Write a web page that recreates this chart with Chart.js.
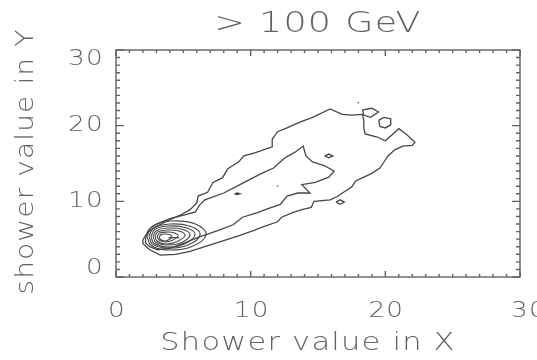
<!DOCTYPE html>
<html>
<head>
<meta charset="utf-8">
<script src="https://cdn.jsdelivr.net/npm/chart.js@4/dist/chart.umd.min.js"></script>
<style>
  html, body { margin: 0; background: #fff; }
  canvas { display: block; filter: blur(0.45px); }
</style>
</head>
<body>
<canvas id="contour" width="537" height="360"></canvas>
<script>
const titleText = '> 100 GeV';
const xTitle = 'Shower value in X';
const yTitle = 'shower value in Y';
const xTicks = [0, 10, 20, 30];
const yTicks = [0, 10, 20, 30];
const minorStep = 1;

// outermost contour level
const outerLevel = [
  [2.0, 4.9], [2.3, 5.8], [2.9, 6.6], [3.8, 7.4], [4.8, 8.2], [5.5, 8.9], [6.0, 9.8],
  [6.1, 10.7], [6.8, 11.2], [7.2, 12.5], [7.9, 13.1], [8.3, 14.3], [9.1, 15.2], [9.5, 16.0],
  [10.3, 16.4], [11.6, 17.2], [11.6, 18.2], [12.0, 19.2], [12.7, 19.7], [13.7, 20.5],
  [14.6, 21.1], [15.9, 22.2], [16.8, 21.5], [17.5, 21.4], [18.3, 21.5], [18.4, 20.7],
  [18.4, 19.7], [18.5, 18.9], [19.4, 18.5], [20.0, 18.0], [20.5, 18.8], [21.0, 19.6],
  [21.6, 18.8], [22.2, 17.8], [22.0, 17.4], [21.3, 17.3], [20.7, 16.8], [20.2, 16.0],
  [19.9, 15.2], [19.6, 14.4], [19.0, 13.7], [18.4, 13.2], [17.8, 12.7], [17.5, 11.9],
  [16.9, 11.2], [16.4, 10.6], [15.9, 10.2], [14.7, 10.0], [14.5, 9.2], [13.8, 8.9],
  [13.1, 8.5], [12.3, 7.9], [12.0, 7.3], [11.0, 6.7], [10.3, 6.2], [9.2, 5.5], [8.0, 4.8],
  [6.6, 4.0], [5.5, 3.4], [4.4, 3.0], [3.3, 2.9], [2.5, 3.6], [2.0, 4.4], [2.0, 4.9]
];

// second contour level
const innerLevel = [
  [2.2, 5.2], [2.4, 6.2], [3.0, 7.0], [4.0, 7.7], [5.1, 8.2], [5.9, 8.6], [6.2, 9.5],
  [6.6, 10.2], [8.0, 11.1], [9.2, 12.2], [10.7, 13.6], [11.7, 14.4], [12.5, 15.7],
  [13.3, 16.5], [13.9, 17.3], [14.1, 16.0], [14.6, 15.2], [15.5, 14.7], [16.2, 14.0],
  [15.8, 13.2], [14.8, 12.5], [13.8, 12.2], [14.4, 11.1], [13.5, 11.1], [12.7, 10.7],
  [12.2, 9.6], [11.4, 9.1], [10.5, 8.5], [9.4, 7.9], [8.7, 6.9], [7.5, 6.1], [6.2, 5.3],
  [5.1, 4.5], [4.0, 3.8], [3.1, 3.6], [2.5, 4.0], [2.2, 4.5], [2.2, 5.2]
];

// small islands of the low levels
const islandTopA = [[18.3, 22.1], [19.0, 22.3], [19.5, 21.8], [18.9, 21.1], [18.4, 21.4], [18.3, 22.1]];
const islandTopB = [[19.5, 20.7], [19.9, 21.1], [20.4, 20.9], [20.4, 20.1], [20.0, 19.7], [19.6, 19.9], [19.5, 20.7]];
const islandMid = [[15.5, 16.0], [15.8, 16.25], [16.1, 16.0], [15.8, 15.75], [15.5, 16.0]];
const islandLow = [[16.35, 9.9], [16.65, 10.2], [16.95, 9.9], [16.65, 9.6], [16.35, 9.9]];
const islandLeft = [[8.8, 11.0], [9.0, 11.1], [9.2, 11.0], [9.0, 10.9], [8.8, 11.0]];
const dotCentre = [[11.95, 12.0], [12.05, 12.05]];
const dotTop = [[17.95, 23.0], [18.05, 23.05]];

// peak rings, outside to inside
const ring1 = [[2.30, 5.42], [2.7, 6.7], [4.1, 7.4], [5.9, 7.0], [6.69, 5.6], [5.6, 4.0], [3.8, 3.57], [2.6, 4.2], [2.30, 5.42]];
const ring2 = [[2.45, 5.42], [2.8, 6.45], [4.0, 7.0], [5.5, 6.7], [6.25, 5.6], [5.3, 4.2], [3.8, 3.83], [2.7, 4.35], [2.45, 5.42]];
const ring3 = [[2.6, 5.4], [2.9, 6.3], [3.9, 6.74], [5.2, 6.5], [5.87, 5.6], [5.0, 4.3], [3.8, 3.96], [2.8, 4.5], [2.6, 5.4]];
const ring4 = [[2.75, 5.4], [3.0, 6.1], [3.8, 6.47], [4.9, 6.3], [5.5, 5.6], [4.8, 4.5], [3.8, 4.23], [2.95, 4.6], [2.75, 5.4]];
const ring5 = [[2.9, 5.4], [3.1, 5.95], [3.8, 6.21], [4.6, 6.1], [5.13, 5.55], [4.5, 4.65], [3.7, 4.36], [3.05, 4.75], [2.9, 5.4]];
const ring6 = [[3.05, 5.35], [3.25, 5.8], [3.8, 5.94], [4.3, 5.85], [4.61, 5.45], [4.2, 4.85], [3.7, 4.62], [3.2, 4.9], [3.05, 5.35]];
const ring7 = [[3.2, 5.3], [3.35, 5.6], [3.7, 5.68], [4.0, 5.6], [4.16, 5.3], [3.95, 4.95], [3.65, 4.76], [3.3, 4.95], [3.2, 5.3]];
const peakDash = [[3.9, 5.2], [4.7, 5.2]];

const jagged = [outerLevel, innerLevel, islandTopA, islandTopB, islandMid, islandLow, islandLeft, dotCentre, dotTop, peakDash];
const smooth = [ring1, ring2, ring3, ring4, ring5, ring6, ring7];

const lineColor = '#474747';
const inkColor = '#626262';

function toPoints(arr) {
  return arr.map(p => ({ x: p[0], y: p[1] }));
}

let datasets = [];
jagged.forEach(arr => {
  datasets.push({
    data: toPoints(arr),
    showLine: true,
    borderColor: lineColor,
    borderWidth: 1.3,
    pointRadius: 0,
    tension: 0
  });
});
smooth.forEach(arr => {
  datasets.push({
    data: toPoints(arr),
    showLine: true,
    borderColor: lineColor,
    borderWidth: 1.1,
    pointRadius: 0,
    tension: 0.4
  });
});

// stretched text, the old vector font is wide
function wideText(ctx, text, x, y, size, stretch, align, angle) {
  ctx.save();
  ctx.translate(x, y);
  if (angle) ctx.rotate(angle);
  ctx.scale(stretch, 1);
  ctx.font = '200 ' + size + 'px "DejaVu Sans"';
  ctx.letterSpacing = '1px';
  ctx.textAlign = align;
  ctx.textBaseline = 'middle';
  ctx.fillText(text, 0, 0);
  ctx.restore();
}

// IDL style frame: box, inward ticks, labels
const framePlugin = {
  id: 'frame',
  afterDatasetsDraw(chart) {
    const { ctx, chartArea: a, scales: { x, y } } = chart;
    ctx.save();
    ctx.strokeStyle = inkColor;
    ctx.lineWidth = 1.4;
    ctx.strokeRect(a.left, a.top, a.right - a.left, a.bottom - a.top);

    ctx.beginPath();
    for (let v = x.min; v <= x.max; v += minorStep) {
      const px = x.getPixelForValue(v);
      const len = xTicks.includes(v) ? 6 : 3;
      ctx.moveTo(px, a.bottom); ctx.lineTo(px, a.bottom - len);
      ctx.moveTo(px, a.top); ctx.lineTo(px, a.top + len);
    }
    for (let v = y.min; v <= y.max; v += minorStep) {
      const py = y.getPixelForValue(v);
      const len = yTicks.includes(v) ? 8 : 4;
      ctx.moveTo(a.left, py); ctx.lineTo(a.left + len, py);
      ctx.moveTo(a.right, py); ctx.lineTo(a.right - len, py);
    }
    ctx.stroke();

    ctx.fillStyle = inkColor;
    xTicks.forEach(v => {
      let px = x.getPixelForValue(v) + 1;
      if (v === x.max) px += 8;   // last label runs off the edge in the original
      wideText(ctx, String(v), px, a.bottom + 35, 21, 1.25, 'center');
    });
    yTicks.forEach(v => {
      let py = y.getPixelForValue(v);
      if (v === y.max) py += 10;
      if (v === y.min) py -= 8;
      wideText(ctx, String(v), a.left - 12, py, 21, 1.25, 'right');
    });

    const cx = (a.left + a.right) / 2;
    const cy = (a.top + a.bottom) / 2;
    wideText(ctx, titleText, cx, 25, 28, 1.3, 'center');
    wideText(ctx, xTitle, cx - 10, a.bottom + 66, 25, 1.22, 'center');
    wideText(ctx, yTitle, 26, cy - 2, 25, 1.12, 'center', -Math.PI / 2);
    ctx.restore();
  }
};

let chart = new Chart(document.getElementById('contour'), {
  type: 'scatter',
  data: { datasets: datasets },
  options: {
    responsive: false,
    devicePixelRatio: 1,
    animation: false,
    layout: { padding: { left: 116, right: 17, top: 50, bottom: 83 } },
    plugins: { legend: { display: false }, tooltip: { enabled: false } },
    scales: {
      x: { type: 'linear', min: 0, max: 30, display: false },
      y: { type: 'linear', min: 0, max: 30, display: false }
    }
  },
  plugins: [framePlugin]
});
</script>
</body>
</html>
